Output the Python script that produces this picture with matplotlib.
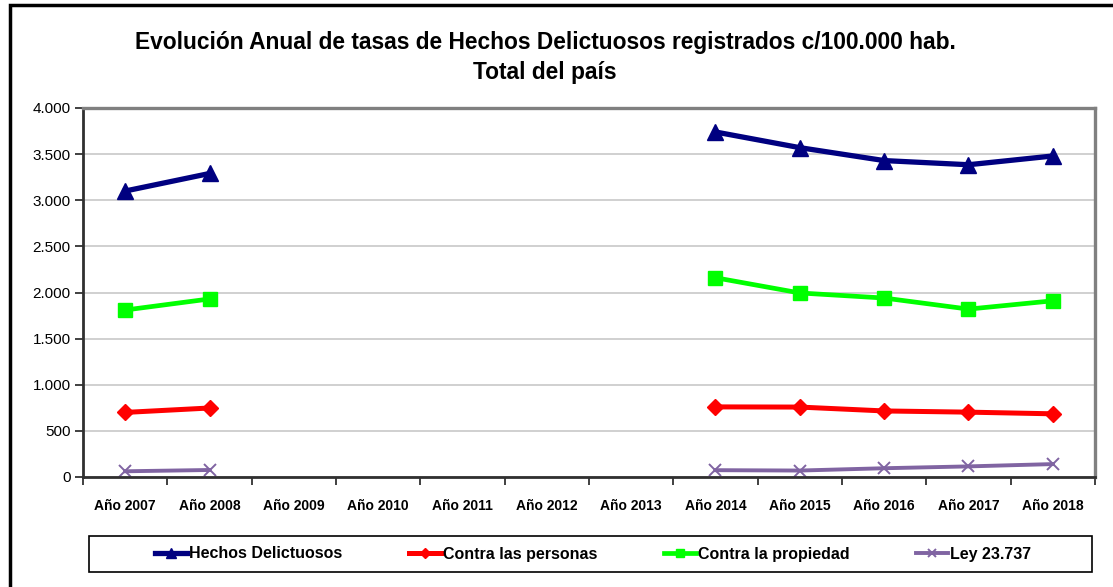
import numpy as np
import matplotlib
matplotlib.use('Agg')
import matplotlib.pyplot as plt
from matplotlib.patches import Rectangle
from matplotlib.ticker import FuncFormatter

plt.rcParams['font.family'] = ['Liberation Sans Narrow', 'Liberation Sans', 'DejaVu Sans']

years = ['Año 2007', 'Año 2008', 'Año 2009', 'Año 2010', 'Año 2011', 'Año 2012',
         'Año 2013', 'Año 2014', 'Año 2015', 'Año 2016', 'Año 2017', 'Año 2018']
nan = np.nan
hechos = [3100, 3290, nan, nan, nan, nan, nan, 3740, 3570, 3430, 3385, 3480]
personas = [700, 748, nan, nan, nan, nan, nan, 760, 758, 716, 703, 685]
propiedad = [1810, 1930, nan, nan, nan, nan, nan, 2160, 1995, 1940, 1820, 1910]
ley = [62, 76, nan, nan, nan, nan, nan, 74, 70, 95, 115, 140]

W, H = 1113, 587
fig = plt.figure(figsize=(W / 100, H / 100), dpi=100)
ax = fig.add_axes([83 / W, 1 - 477 / H, 1012 / W, 369 / H])

x = np.arange(len(years))
ax.plot(x, hechos, color='#000080', lw=3.8, marker='^', ms=11, label='Hechos Delictuosos')
ax.plot(x, personas, color='#ff0000', lw=3.6, marker='D', ms=8, label='Contra las personas')
ax.plot(x, propiedad, color='#00ff00', lw=3.4, marker='s', ms=10, label='Contra la propiedad')
ax.plot(x, ley, color='#8064a2', lw=2.8, marker='x', ms=9, mew=1.4, label='Ley 23.737')

ax.set_xlim(-0.5, len(years) - 0.5)
ax.set_ylim(0, 4000)
ax.set_yticks(np.arange(0, 4001, 500))
ax.yaxis.set_major_formatter(FuncFormatter(lambda v, p: f'{int(v):,}'.replace(',', '.')))
ax.grid(axis='y', color='#c8c8c8', lw=1.2)
ax.set_axisbelow(True)

ax.set_xticks(x)
ax.set_xticklabels(years, fontweight='bold', fontsize=10)
ax.set_xticks(np.arange(-0.5, len(years), 1), minor=True)
ax.tick_params(axis='x', which='major', length=0, pad=16)
ax.tick_params(axis='x', which='minor', length=6, width=1.2, direction='out', color='#202020')
ax.tick_params(axis='y', length=6, width=1.2, direction='out', labelsize=11, pad=3, color='#202020')

for s in ['left', 'bottom']:
    ax.spines[s].set_color('#303030')
    ax.spines[s].set_linewidth(2)
for s in ['top', 'right']:
    ax.spines[s].set_color('#808080')
    ax.spines[s].set_linewidth(2.4)

fig.text(545 / W, 1 - 42 / H, 'Evolución Anual de tasas de Hechos Delictuosos registrados c/100.000 hab.',
         ha='center', va='center', fontsize=16.4, fontweight='bold')
fig.text(545 / W, 1 - 73 / H, 'Total del país', ha='center', va='center',
         fontsize=16.4, fontweight='bold')

# legend box drawn separately so it spans the plot width
fig.patches.append(Rectangle((89 / W, 1 - 572 / H), 1003 / W, 36 / H, transform=fig.transFigure,
                             fill=False, edgecolor='black', lw=1.2))
fig.legend(loc='center', ncol=4, bbox_to_anchor=(593 / W, 1 - 554 / H),
           frameon=False, handlelength=2.0, handletextpad=0.1, columnspacing=4.2,
           markerscale=0.6, prop={'weight': 'bold', 'size': 11.5}, borderaxespad=0)

fig.patches.append(Rectangle((9.5 / W, -0.1), 1.2, 1 - 4.5 / H + 0.1, transform=fig.transFigure,
                             fill=False, edgecolor='black', lw=2.5, clip_on=False))

fig.savefig('out.png', dpi=100)
